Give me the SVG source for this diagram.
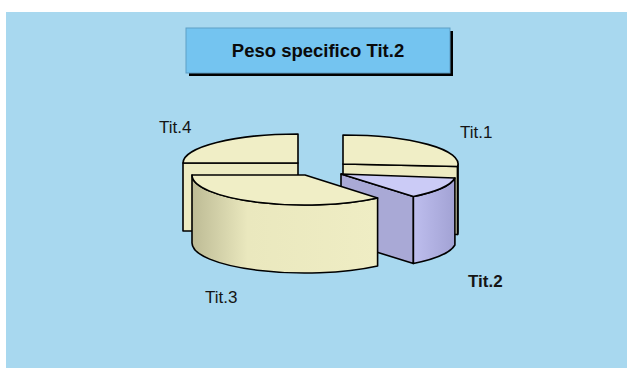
<svg xmlns="http://www.w3.org/2000/svg" width="627" height="369" viewBox="0 0 627 369">
<defs>
<style>
.lbl{font-family:"Liberation Sans",Arial,sans-serif;font-size:17px;fill:#151515}
.edge{stroke:#000;stroke-width:1.6;stroke-linejoin:round}
.cream{fill:#F0EEC6}
.creamFace{fill:#EDEBC2}
.ptop{fill:#CBCBF6}
.pface{fill:#A9A9D6}
</style>
<linearGradient id="wall3" x1="192" y1="0" x2="378" y2="0" gradientUnits="userSpaceOnUse">
<stop offset="0" stop-color="#BDBB95"/>
<stop offset="0.3" stop-color="#EAE8BE"/>
<stop offset="1" stop-color="#EFEDC4"/>
</linearGradient>
<linearGradient id="wall2" x1="413" y1="0" x2="455" y2="0" gradientUnits="userSpaceOnUse">
<stop offset="0" stop-color="#BEBEEE"/>
<stop offset="1" stop-color="#A2A2D4"/>
</linearGradient>
</defs>
<rect x="0" y="0" width="627" height="369" fill="#FFFFFF"/>
<rect x="6" y="12" width="621" height="356" fill="#A8D8EF"/>
<g id="title">
<rect x="189" y="31" width="264" height="45" fill="#000"/>
<rect x="186" y="28" width="264" height="45" fill="#74C4F0" stroke="#5E9FC6" stroke-width="1"/>
<text x="318" y="57" text-anchor="middle" font-family="'Liberation Sans',Arial,sans-serif" font-size="18.5" font-weight="bold" fill="#0A0A0A">Peso specifico Tit.2</text>
</g>
<g id="tit4">
<path class="edge creamFace" d="M183,163 L298,163 L298,231 L183,231 Z"/>
<path class="edge cream" d="M298,163 L298,134 A115,29 0 0 0 183,163 Z"/>
</g>
<g id="tit1">
<path class="edge creamFace" d="M343,164 L457.6,166.5 L457.6,234.5 L343,232 Z"/>
<path class="edge" fill="#D6D4A8" d="M458,164 A115,29 0 0 1 457.6,166.5 L457.6,234.5 A115,29 0 0 0 458,232 Z"/>
<path class="edge cream" d="M343,164 L343,135 A115,29 0 0 1 457.6,166.5 Z"/>
</g>
<g id="tit2">
<path class="edge pface" d="M341,174 L413.4,196.5 L413.4,263.5 L341,241 Z"/>
<path class="edge" fill="url(#wall2)" d="M413.4,196.5 A115,29 0 0 0 454.9,178 L454.9,245 A115,29 0 0 1 413.4,263.5 Z"/>
<path class="edge ptop" d="M341,174 L454.9,178 A115,29 0 0 1 413.4,196.5 Z"/>
</g>
<g id="tit3">
<path class="edge" fill="url(#wall3)" d="M192,175 A113,30 0 0 0 377.6,198 L377.6,266 A113,30 0 0 1 192,243 Z"/>
<path class="edge cream" d="M305,175 L192,175 A113,30 0 0 0 377.6,198 Z"/>
</g>
<g id="labels">
<text class="lbl" x="159" y="133">Tit.4</text>
<text class="lbl" x="460" y="138">Tit.1</text>
<text class="lbl" x="205" y="303">Tit.3</text>
<text class="lbl" x="468" y="287" font-weight="bold">Tit.2</text>
</g>
</svg>
